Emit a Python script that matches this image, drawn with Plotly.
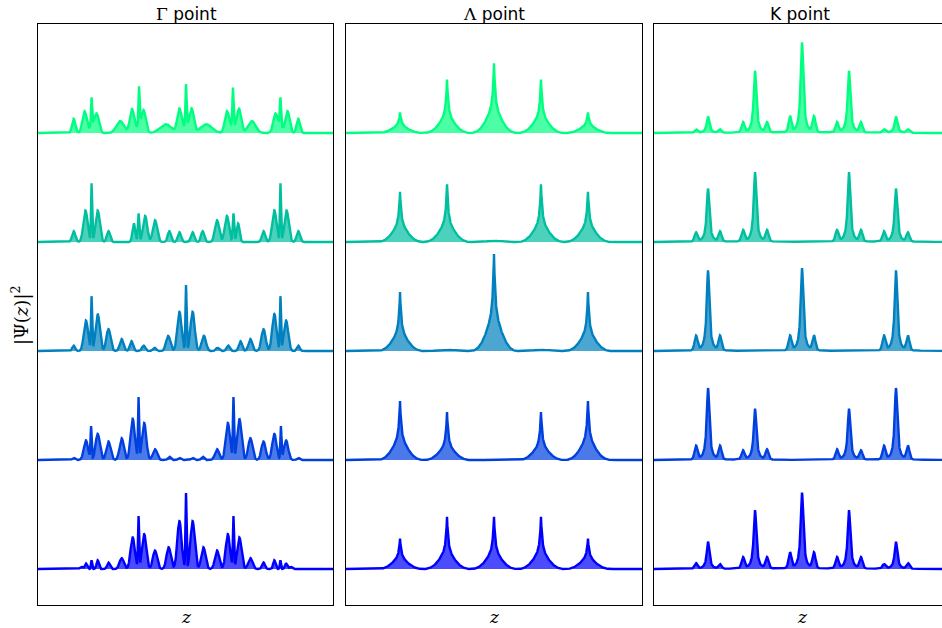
import numpy as np
import plotly.graph_objects as go

# ---------------- data ----------------
PANEL_TITLES = ["<span style=\"font-family:'DejaVu Serif'\">Γ</span> point",
                "<span style=\"font-family:'DejaVu Serif'\">Λ</span> point",
                "K point"]
CELL_CENTERS = [1.0, 2.0, 3.0, 4.0, 5.0]      # z of the five unit cells
ROW_OFFSETS = [0, 1, 2, 3, 4]                   # vertical stacking offset of each state
K_SIDE_OFFSET = 0.255                           # satellite peaks around each K-point maximum

# Gamma point: resolved peaks (z, height, width) for each state, bottom (0) -> top (4)
GAMMA_ROW0 = [(0.77, .02, .03), (0.87, .05, .025), (0.99, .08, .012), (1.12, .08, .025), (1.35, .06, .03),
              (1.63, .10, .045), (1.865, .29, .045), (1.99, .47, .012), (2.11, .32, .045), (2.34, .17, .045),
              (2.63, .20, .045), (2.86, .44, .045), (3.00, .69, .012), (3.14, .44, .045), (3.37, .20, .045),
              (3.66, .17, .045), (3.89, .32, .045), (4.01, .47, .012), (4.135, .29, .045), (4.37, .10, .045),
              (4.65, .06, .03), (4.88, .08, .025), (5.01, .08, .012), (5.13, .05, .025), (5.23, .02, .03)]
GAMMA_ROW1 = [(0.61, .02, .03), (0.87, .18, .045), (0.98, .30, .012), (1.12, .24, .045), (1.35, .17, .045),
              (1.63, .20, .045), (1.865, .38, .045), (1.99, .56, .012), (2.11, .34, .045), (2.34, .10, .045),
              (2.645, .03, .03), (2.86, .02, .03), (3.14, .02, .03), (3.355, .03, .03), (3.66, .10, .045),
              (3.89, .34, .045), (4.01, .56, .012), (4.135, .38, .045), (4.37, .20, .045), (4.65, .17, .045),
              (4.88, .24, .045), (5.02, .30, .012), (5.13, .18, .045), (5.39, .02, .03)]
GAMMA_ROW2 = [(0.61, .05, .03), (0.87, .28, .045), (0.99, .49, .012), (1.12, .34, .045), (1.35, .20, .045),
              (1.63, .11, .04), (1.84, .09, .035), (2.10, .05, .035), (2.33, .03, .035), (2.62, .14, .045),
              (2.86, .36, .045), (3.00, .60, .012), (3.14, .36, .045), (3.38, .14, .045), (3.67, .03, .035),
              (3.90, .05, .035), (4.16, .09, .035), (4.37, .11, .04), (4.65, .20, .045), (4.88, .34, .045),
              (5.01, .49, .012), (5.13, .28, .045), (5.39, .05, .03)]
GAMMA_ROW3 = [(0.61, .10, .035), (0.86, .29, .045), (0.99, .53, .012), (1.12, .29, .045), (1.35, .10, .035),
              (1.89, .17, .03), (1.99, .26, .015), (2.13, .24, .045), (2.34, .20, .045), (2.645, .10, .035),
              (2.86, .09, .035), (3.14, .09, .035), (3.355, .10, .035), (3.66, .20, .045), (3.87, .24, .045),
              (4.01, .26, .015), (4.11, .17, .03), (4.65, .10, .035), (4.88, .29, .045), (5.01, .53, .012),
              (5.14, .29, .045), (5.39, .10, .035)]
GAMMA_ROW4 = [(0.61, .13, .035), (0.84, .20, .045), (0.99, .25, .012), (1.00, .07, .05), (1.10, .17, .045),
              (1.60, .11, .08), (1.85, .22, .045), (2.00, .34, .012), (2.00, .07, .05), (2.10, .20, .045),
              (2.57, .08, .12), (2.86, .22, .045), (3.00, .37, .012), (3.00, .07, .05), (3.12, .22, .045),
              (3.43, .08, .12), (3.87, .20, .045), (4.00, .34, .012), (4.00, .07, .05), (4.13, .22, .045),
              (4.40, .11, .08), (4.90, .17, .045), (5.01, .25, .012), (5.00, .07, .05), (5.16, .20, .045),
              (5.39, .13, .035)]
GAMMA_ROWS = [GAMMA_ROW0, GAMMA_ROW1, GAMMA_ROW2, GAMMA_ROW3, GAMMA_ROW4]

# Lambda point: cusp height and shoulder height in each cell, rows bottom -> top
LAMBDA_SPIKE = [[.15, .28, .28, .28, .15],
                [.30, .27, 0.0, .27, .30],
                [.32, 0.0, .49, 0.0, .32],
                [.26, .31, 0.0, .31, .26],
                [.10, .29, .36, .29, .10]]
LAMBDA_SHOULDER = [[.13, .20, .20, .20, .13],
                   [.24, .17, 0.0, .17, .24],
                   [.22, .014, .40, .014, .22],
                   [.20, .22, .014, .22, .20],
                   [.09, .20, .28, .20, .09]]

# K point: main peak and the two satellites in each cell, rows bottom -> top
K_MAIN = [[.25, .54, .70, .54, .25],
          [.66, .47, 0.0, .47, .66],
          [.74, 0.0, .76, 0.0, .74],
          [.49, .64, 0.0, .64, .49],
          [.15, .57, .83, .57, .15]]
K_SIDE_LEFT = [[.05, .10, .14, .10, .04],
               [.12, .08, 0.0, .09, .12],
               [.13, 0.0, .13, 0.0, .13],
               [.08, .10, 0.0, .10, .09],
               [.03, .09, .14, .09, .03]]
K_SIDE_RIGHT = [[.04, .10, .14, .10, .05],
                [.12, .09, 0.0, .08, .12],
                [.13, 0.0, .13, 0.0, .13],
                [.09, .10, 0.0, .10, .08],
                [.03, .09, .14, .09, .03]]

# ---------------- line shapes ----------------
Z = np.linspace(-0.15, 6.15, 3151)


def gauss(c, h, s):
    return h * np.exp(-0.5 * ((Z - c) / s) ** 2)


def lorentz(c, h, g):
    return h / (1.0 + ((Z - c) / g) ** 2)


def cusp(c, h, w):
    return h * np.exp(-np.abs(Z - c) / w)


def shoulder(c, h):
    d = Z - c
    return np.where(np.abs(d) < 0.5, h * np.cos(np.pi * d) ** 2 * np.exp(-np.abs(d) / 0.3), 0.0)


def gamma_curve(row):
    y = np.zeros_like(Z)
    for c, h, s in GAMMA_ROWS[row]:
        y += gauss(c, h, s)
    return y


def lambda_curve(row):
    y = np.zeros_like(Z)
    for i, c in enumerate(CELL_CENTERS):
        y += cusp(c, LAMBDA_SPIKE[row][i], 0.025) + shoulder(c, LAMBDA_SHOULDER[row][i])
    return y


def k_curve(row):
    y = np.zeros_like(Z)
    for i, c in enumerate(CELL_CENTERS):
        y += lorentz(c, K_MAIN[row][i], 0.034)
        y += gauss(c - K_SIDE_OFFSET, K_SIDE_LEFT[row][i], 0.032)
        y += gauss(c + K_SIDE_OFFSET, K_SIDE_RIGHT[row][i], 0.032)
    return y


CURVE_BUILDERS = [gamma_curve, lambda_curve, k_curve]


def winter(t):
    return (0, int(round(255 * t)), int(round(255 * (1 - t / 2))))


# ---------------- figure ----------------
W, H = 942, 628
panel_px = [(38, 333), (346, 642), (654, 942)]
title_cx = [186, 494, 800]
label_cx = [186, 494, 802]
top_px, bot_px = 24, 605
px_per_z = (642 - 346) / 6.3
z0 = -0.15

fig = go.Figure()
for p in range(3):
    xa = "x" if p == 0 else f"x{p + 1}"
    ya = "y" if p == 0 else f"y{p + 1}"
    for row in ROW_OFFSETS:
        y = CURVE_BUILDERS[p](row)
        r, g, b = winter(row / 4)
        off = ROW_OFFSETS[row]
        fig.add_trace(go.Scatter(
            x=np.concatenate([Z, Z[::-1]]),
            y=np.concatenate([y + off, np.full_like(Z, off)]),
            fill="toself", fillcolor=f"rgba({r},{g},{b},0.7)",
            line=dict(width=0), mode="lines", hoverinfo="skip",
            xaxis=xa, yaxis=ya))
        fig.add_trace(go.Scatter(
            x=Z, y=y + off, mode="lines",
            line=dict(color=f"rgb({r},{g},{b})", width=2.4),
            xaxis=xa, yaxis=ya))

layout = dict(width=W, height=H, margin=dict(l=0, r=0, t=0, b=0),
              plot_bgcolor="white", paper_bgcolor="white", showlegend=False)
ydom = [1 - bot_px / H, 1 - top_px / H]
annotations = []
for p, (a, b) in enumerate(panel_px):
    xk = "xaxis" if p == 0 else f"xaxis{p + 1}"
    yk = "yaxis" if p == 0 else f"yaxis{p + 1}"
    width_px = b - a
    layout[xk] = dict(domain=[a / W, min(b / W, 1.0)], range=[z0, z0 + width_px / px_per_z],
                      showticklabels=False, ticks="", showgrid=False, zeroline=False,
                      showline=True, mirror=True, linecolor="black", linewidth=1,
                      anchor="y" if p == 0 else f"y{p + 1}")
    layout[yk] = dict(domain=ydom, range=[-0.33, 5.0], showticklabels=False, ticks="",
                      showgrid=False, zeroline=False, showline=True, mirror=True,
                      linecolor="black", linewidth=1,
                      anchor="x" if p == 0 else f"x{p + 1}")
    annotations.append(dict(x=title_cx[p] / W, y=1 - 14 / H, xref="paper", yref="paper",
                            text=PANEL_TITLES[p], showarrow=False,
                            font=dict(family="DejaVu Sans", size=17, color="black"),
                            xanchor="center", yanchor="middle"))
    annotations.append(dict(x=label_cx[p] / W, y=1 - 617 / H, xref="paper", yref="paper",
                            text="<i>z</i>", showarrow=False,
                            font=dict(family="DejaVu Serif", size=17, color="black"),
                            xanchor="center", yanchor="middle"))
annotations.append(dict(x=20 / W, y=1 - 316 / H, xref="paper", yref="paper",
                        text="|Ψ(<i>z</i>)|<sup>2</sup>", showarrow=False, textangle=-90,
                        font=dict(family="DejaVu Serif", size=18, color="black"),
                        xanchor="center", yanchor="middle"))
layout["annotations"] = annotations
fig.update_layout(**layout)
fig.write_html("out.html")
